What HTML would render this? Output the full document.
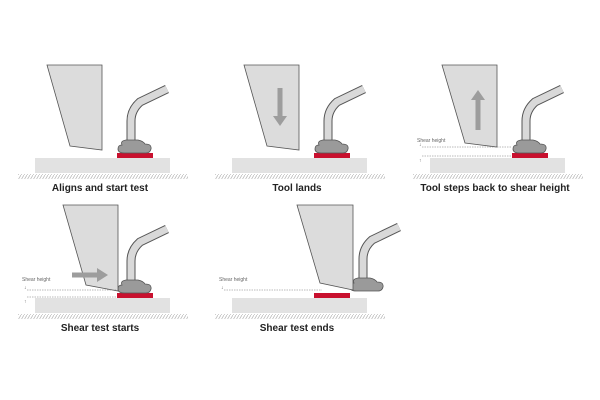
<!DOCTYPE html>
<html><head><style>body{margin:0;background:#fff}svg{display:block}</style></head><body>
<svg width="600" height="400" viewBox="0 0 600 400" xmlns="http://www.w3.org/2000/svg" font-family="Liberation Sans, sans-serif">
<defs>
<pattern id="h" width="3" height="5" patternUnits="userSpaceOnUse"><line x1="0" y1="5" x2="3" y2="0" stroke="#bbb" stroke-width="0.8"/></pattern>
<g id="base">
<rect x="35" y="158" width="135" height="15" fill="#e2e2e2"/>
<rect x="18" y="174" width="170" height="5" fill="url(#h)"/>
</g>
<g id="bond">
<path d="M131,141 L131,121 Q131,110 140,102 L167,89" fill="none" stroke="#555" stroke-width="9" stroke-linecap="butt"/>
<path d="M131,141 L131,121 Q131,110 140,102 L167,89" fill="none" stroke="#d9d9d9" stroke-width="7"/>
<path d="M122,145 Q120,141 126,140 L138,140 Q143,141 145,144 Q152,144 151,149 Q150,153 146,153 L124,153 Q118,153 118,149 Q118,145 122,145Z" fill="#9a9a9a" stroke="#555" stroke-width="0.8"/>
</g>
<g id="pad"><rect x="117" y="153" width="36" height="5" fill="#c8102e"/></g>
</defs>

<!-- Panel 1 -->
<use href="#base"/><use href="#pad"/><use href="#bond"/>
<polygon points="47,65 102,65 102,150 70,146" fill="#dcdcdc" stroke="#555" stroke-width="0.8"/>
<text x="100" y="191" text-anchor="middle" font-size="10" font-weight="bold" fill="#222">Aligns and start test</text>

<!-- Panel 2 -->
<g transform="translate(197,0)">
<use href="#base"/><use href="#pad"/><use href="#bond"/>
<polygon points="47,65 102,65 102,150 70,146" fill="#dcdcdc" stroke="#555" stroke-width="0.8"/>
<line x1="83" y1="88" x2="83" y2="118" stroke="#9d9d9d" stroke-width="5"/>
<polygon points="76,116 90,116 83,126" fill="#9d9d9d"/>
<text x="100" y="191" text-anchor="middle" font-size="10" font-weight="bold" fill="#222">Tool lands</text>
</g>

<!-- Panel 3 -->
<g transform="translate(395,0)">
<use href="#base"/><use href="#pad"/><use href="#bond"/>
<polygon points="47,65 102,65 102,147 70,143" fill="#dcdcdc" stroke="#555" stroke-width="0.8"/>
<line x1="83" y1="130" x2="83" y2="100" stroke="#9d9d9d" stroke-width="5"/>
<polygon points="76,100 90,100 83,90" fill="#9d9d9d"/>
<text x="22" y="142" font-size="5" fill="#666">Shear height</text>
<line x1="27" y1="147" x2="117" y2="147" stroke="#777" stroke-width="0.5" stroke-dasharray="1.5,1"/>
<line x1="27" y1="156" x2="117" y2="156" stroke="#777" stroke-width="0.5" stroke-dasharray="1.5,1"/>
<text x="24" y="146" font-size="5" fill="#555">↓</text>
<text x="24" y="162" font-size="5" fill="#555">↑</text>
<text x="100" y="191" text-anchor="middle" font-size="10" font-weight="bold" fill="#222">Tool steps back to shear height</text>
</g>

<!-- Panel 4 -->
<g transform="translate(0,140)">
<use href="#base"/><use href="#pad"/><use href="#bond"/>
<polygon points="63,65 118,65 118,151 86,145" fill="#dcdcdc" stroke="#555" stroke-width="0.8"/>
<line x1="72" y1="135" x2="98" y2="135" stroke="#9d9d9d" stroke-width="5"/>
<polygon points="97,128 97,142 108,135" fill="#9d9d9d"/>
<text x="22" y="141" font-size="5" fill="#666">Shear height</text>
<line x1="27" y1="150" x2="117" y2="150" stroke="#777" stroke-width="0.5" stroke-dasharray="1.5,1"/>
<line x1="27" y1="157" x2="117" y2="157" stroke="#777" stroke-width="0.5" stroke-dasharray="1.5,1"/>
<text x="24" y="149" font-size="5" fill="#555">↓</text>
<text x="24" y="163" font-size="5" fill="#555">↑</text>
<text x="100" y="191" text-anchor="middle" font-size="10" font-weight="bold" fill="#222">Shear test starts</text>
</g>

<!-- Panel 5 -->
<g transform="translate(197,140)">
<use href="#base"/><use href="#pad"/>
<g transform="translate(35,-2)"><use href="#bond"/></g>
<polygon points="100,65 156,65 156,150 123,143" fill="#dcdcdc" stroke="#555" stroke-width="0.8"/>
<text x="22" y="141" font-size="5" fill="#666">Shear height</text>
<line x1="27" y1="150" x2="125" y2="150" stroke="#777" stroke-width="0.5" stroke-dasharray="1.5,1"/>
<text x="24" y="149" font-size="5" fill="#555">↓</text>
<text x="100" y="191" text-anchor="middle" font-size="10" font-weight="bold" fill="#222">Shear test ends</text>
</g>
</svg>
</body></html>
